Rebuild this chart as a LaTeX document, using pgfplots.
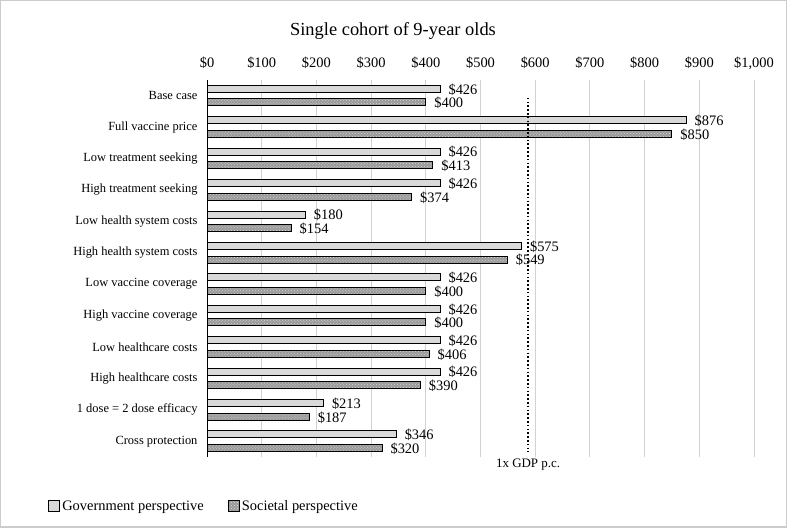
\documentclass[border=0pt]{standalone}
\usepackage{pgfplots}
\pgfplotsset{compat=1.18}
\usepackage{fontspec}
\setmainfont{Liberation Serif}
\usetikzlibrary{patterns}

\pgfplotstableread{
idx gov soc
0  426 400
1  876 850
2  426 413
3  426 374
4  180 154
5  575 549
6  426 400
7  426 400
8  426 406
9  426 390
10 213 187
11 346 320
}\costs

\begin{document}
\begin{tikzpicture}[x=1bp,y=1bp]
\draw[gray!40, line width=1.5bp] (0.75,0.75) rectangle (786.25,527.25);
\node[font=\fontsize{18.5}{22}\selectfont] at (393,497) {Single cohort of 9-year olds};
\begin{axis}[
  at={(207bp,71bp)}, anchor=south west, scale only axis,
  width=547bp, height=377bp,
  clip=false,
  xmin=0, xmax=1000,
  ymin=-0.5, ymax=11.5, y dir=reverse,
  ytick={0,...,11},
  yticklabels={Base case, Full vaccine price, Low treatment seeking, High treatment seeking,
    Low health system costs, High health system costs, Low vaccine coverage, High vaccine coverage,
    Low healthcare costs, High healthcare costs, 1 dose = 2 dose efficacy, Cross protection},
  xtick={0,100,...,1000},
  axis x line*=top, axis y line*=left,
  x axis line style={draw=none},
  y axis line style={black, line width=1bp},
  major tick length=0pt,
  xmajorgrids, grid style={gray!35, line width=0.9bp},
  xticklabel={\$\pgfmathprintnumber[assume math mode=true,1000 sep={,}]{\tick}},
  yticklabel style={font=\fontsize{12.5}{15}\selectfont, xshift=-6bp},
  xticklabel style={font=\fontsize{14.5}{17}\selectfont, anchor=base, yshift=12bp},
  legend style={at={(-0.296,-0.13)}, anchor=west, draw=none, legend columns=2,
    font=\fontsize{14.5}{17}\selectfont,
    /tikz/every even column/.append style={column sep=22bp}},
  legend image code/.code={\draw[#1] (0bp,-5.5bp) rectangle (11bp,5.5bp);},
  every node near coord/.append style={font=\fontsize{14.5}{17}\selectfont, anchor=west, inner sep=2bp, xshift=6bp},
]
\addplot[xbar, bar width=7bp, bar shift=6.8bp, draw=black, line width=1bp, fill=gray!30,
  nodes near coords={\$\pgfmathprintnumber[assume math mode=true]{\pgfplotspointmeta}},
  nodes near coords style={yshift=6.3bp}, point meta=x]
  table[x=gov, y=idx] {\costs};
\addplot[xbar, bar width=7bp, bar shift=-6.8bp, draw=black, line width=1bp, fill=gray!80,
  postaction={pattern=crosshatch dots, pattern color=gray!30},
  nodes near coords={\$\pgfmathprintnumber[assume math mode=true]{\pgfplotspointmeta}},
  nodes near coords style={yshift=-7.5bp}, point meta=x]
  table[x=soc, y=idx] {\costs};
\addplot[sharp plot, forget plot, black, line width=1.6bp, dash pattern=on 1.6bp off 2.2bp]
  coordinates {(587,0.07) (587,11.35)};
\node[anchor=north, font=\fontsize{13}{15}\selectfont] at (axis cs:587,11.45) {1x GDP p.c.};
\legend{Government perspective, Societal perspective}
\end{axis}
\end{tikzpicture}
\end{document}
